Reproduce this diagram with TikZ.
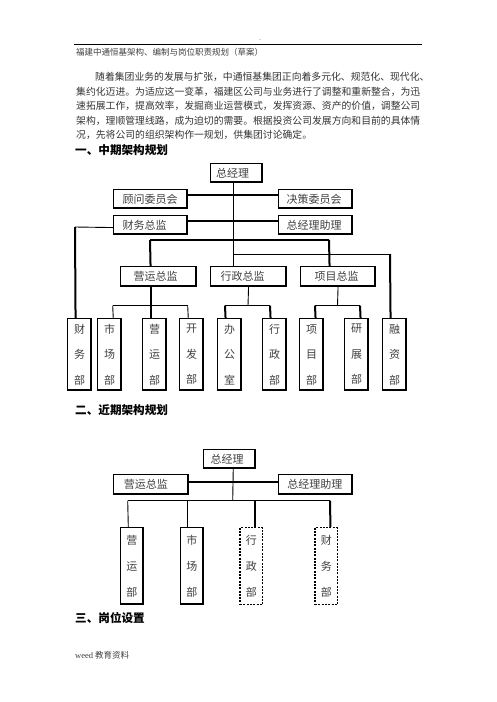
\documentclass[tikz,border=0pt]{standalone}
\usepackage{fontspec}
\setmainfont{Noto Sans CJK SC}
\newfontfamily\latinserif{Liberation Serif}
\begin{document}
\begin{tikzpicture}[x=1pt,y=-1pt,
  txt/.style={anchor=west,inner sep=0pt,text=black!80},
  para/.style={txt,font=\fontsize{9.83}{10}\selectfont},
  head/.style={anchor=west,inner sep=0pt,text=black,font=\fontsize{11.6}{12}\selectfont\bfseries},
  shd/.style={path picture={\draw[line width=3pt] (path picture bounding box.north east) -- (path picture bounding box.south east) -- (path picture bounding box.south west);}},
  hb/.style={draw=black,line width=1.1pt,shd,anchor=north west,inner ysep=0pt,align=left,
    text=black!75,font=\fontsize{11}{11}\selectfont},
  vb/.style={draw=black,line width=1.1pt,shd,anchor=north west,inner sep=0pt,align=center,
    minimum width=24pt,minimum height=72pt,text=black!75,font=\fontsize{11}{25.5}\selectfont},
  vb2/.style={vb,minimum width=22.5pt,minimum height=77pt,font=\fontsize{11}{26}\selectfont},
  dsh/.style={path picture={},line width=1.4pt,dash pattern=on 2pt off 1.3pt},
  thn/.style={line width=0.9pt},
  mid/.style={line width=1.3pt},
  thk/.style={line width=2pt}]
\fill[white] (0,0) rectangle (496,702);
% header
\node[txt,text=black!50,font=\fontsize{6}{6}\selectfont] (dash) at (259,41) {-};
\draw[line width=0.9pt] (74,44.7) -- (422,44.7);
\node[txt,font=\fontsize{8.5}{9}\selectfont,text=black!75] (hdr) at (76,52) {福建中通恒基架构、编制与岗位职责规划（草案）};
% paragraph
\node[para] (p1) at (95,77) {随着集团业务的发展与扩张，中通恒基集团正向着多元化、规范化、现代化、};
\node[para] (p2) at (76,91.5) {集约化迈进。为适应这一变革，福建区公司与业务进行了调整和重新整合，为迅};
\node[para] (p3) at (76,106) {速拓展工作，提高效率，发掘商业运营模式，发挥资源、资产的价值，调整公司};
\node[para] (p4) at (76,120.5) {架构，理顺管理线路，成为迫切的需要。根据投资公司发展方向和目前的具体情};
\node[para] (p5) at (76,135) {况，先将公司的组织架构作一规划，供集团讨论确定。};
\node[head] (h1) at (75,150) {一、中期架构规划};
% chart 1
\node[hb,minimum height=19pt,text width=41pt,inner xsep=5.5pt] (zjl) at (210,163) {总经理};
\node[hb,minimum height=19pt,text width=56pt,inner xsep=9pt] (gw) at (113,189) {顾问委员会};
\node[hb,minimum height=19pt,text width=58pt,inner xsep=8pt] (jc) at (278,189) {决策委员会};
\node[hb,minimum height=19pt,text width=56pt,inner xsep=9pt] (cwzj) at (113,215) {财务总监};
\node[hb,minimum height=19pt,text width=58pt,inner xsep=8pt] (zl) at (278,215) {总经理助理};
\node[hb,minimum height=20pt,text width=50pt,inner xsep=13pt] (yyzj) at (120,266) {营运总监};
\node[hb,minimum height=20pt,text width=56pt,inner xsep=10pt] (xzzj) at (210,266) {行政总监};
\node[hb,minimum height=20pt,text width=47pt,inner xsep=14pt] (xmzj) at (300,266) {项目总监};
\node[vb] (cwb) at (67,318) {财\\务\\部};
\node[vb] (scb) at (97,318) {市\\场\\部};
\node[vb] (yyb) at (142,318) {营\\运\\部};
\node[vb] (kfb) at (179,318) {开\\发\\部};
\node[vb] (bgs) at (217,318) {办\\公\\室};
\node[vb] (xzb) at (262,318) {行\\政\\部};
\node[vb] (xmb) at (299,318) {项\\目\\部};
\node[vb] (yzb) at (344,318) {研\\展\\部};
\node[vb] (rzb) at (382,318) {融\\资\\部};
\coordinate (c1) at (75,227);
\coordinate (h1a) at (150,240);
\coordinate (h1b) at (329,240);
\coordinate (h2a) at (233,254);
\coordinate (h2b) at (390,254);
\coordinate (g1a) at (112.7,305.7);
\coordinate (g1b) at (187.7,305.7);
\coordinate (g2m) at (248,305.7);
\coordinate (g2a) at (225,305.7);
\coordinate (g2b) at (270,305.7);
\coordinate (g3m) at (337.5,305.7);
\coordinate (g3a) at (315,305.7);
\coordinate (g3b) at (360,305.7);
\draw[thn] ([xshift=-3pt]zjl.south) -- ([xshift=-15pt]xzzj.north);
\draw[thk] ([yshift=4.5pt]gw.east) -- ([yshift=4.5pt]jc.west);
\draw[thk] ([yshift=4pt]cwzj.east) -- ([yshift=4pt]zl.west);
\draw[thn] ([yshift=-2.5pt]cwzj.west) -- (c1);
\draw[thk] (c1) -- ([xshift=-4pt]cwb.north);
\draw[mid] (h1a) -- (h1b);
\draw[thk] (h1a) -- ([xshift=-8pt]yyzj.north);
\draw[thk] (h1b) -- ([xshift=-8.5pt]xmzj.north);
\draw[thn] (h2a) -- (h2b);
\draw[thk] (h2b) -- ([xshift=-4pt]rzb.north);
\draw[thk] ([xshift=-8pt]yyzj.south) -- ([xshift=-4pt]yyb.north);
\draw[thn] (g1a) -- (g1b);
\draw[thn] (g1a) -- ([xshift=3.7pt]scb.north);
\draw[thn] (g1b) -- ([xshift=-3.3pt]kfb.north);
\draw[thn] (xzzj.south) -- (g2m);
\draw[mid] (g2a) -- (g2b);
\draw[thk] (g2a) -- ([xshift=-4pt]bgs.north);
\draw[thk] (g2b) -- ([xshift=-4pt]xzb.north);
\draw[thn] (xmzj.south) -- (g3m);
\draw[mid] (g3a) -- (g3b);
\draw[thk] (g3a) -- ([xshift=4pt]xmb.north);
\draw[thk] (g3b) -- ([xshift=4pt]yzb.north);
% section 2
\node[head] (h2) at (75,410) {二、近期架构规划};
\node[hb,minimum height=19pt,text width=38pt,inner xsep=7.3pt] (zjl2) at (202.7,449) {总经理};
\node[hb,minimum height=20pt,text width=53.8pt,inner xsep=10.6pt] (yyzj2) at (112.7,474) {营运总监};
\node[hb,minimum height=20pt,text width=56.6pt,inner xsep=9pt] (zl2) at (277.7,474) {总经理助理};
\node[vb2] (yyb2) at (120,527) {营\\运\\部};
\node[vb2] (scb2) at (180,527) {市\\场\\部};
\node[vb2,dsh] (xzb2) at (239.3,527) {行\\政\\部};
\node[vb2,dsh] (cwb2) at (314.3,527) {财\\务\\部};
\coordinate (k1) at (232.7,500.7);
\coordinate (k1a) at (127.7,500.7);
\coordinate (k1b) at (330,500.7);
\draw[thn] ([xshift=3.7pt]zjl2.south) -- (k1);
\draw[thk] ([yshift=3pt]yyzj2.east) -- ([yshift=3pt]zl2.west);
\draw[thn] (k1a) -- (k1b);
\draw[thn] (k1a) -- ([xshift=-3.5pt]yyb2.north);
\draw[thn] ([xshift=-4pt]scb2.north) -- ++(0,-26.3);
\draw[thk] ([xshift=4.2pt]xzb2.north) -- ++(0,-26.3);
\draw[thk] (k1b) -- ([xshift=4.2pt]cwb2.north);
% section 3 and footer
\node[head] (h3) at (75,617.7) {三、岗位设置};
\node[txt,font=\fontsize{8.5}{9}\selectfont,text=black!75] (ft) at (75,655) {{\latinserif weed} 教育资料};
\end{tikzpicture}
\end{document}
